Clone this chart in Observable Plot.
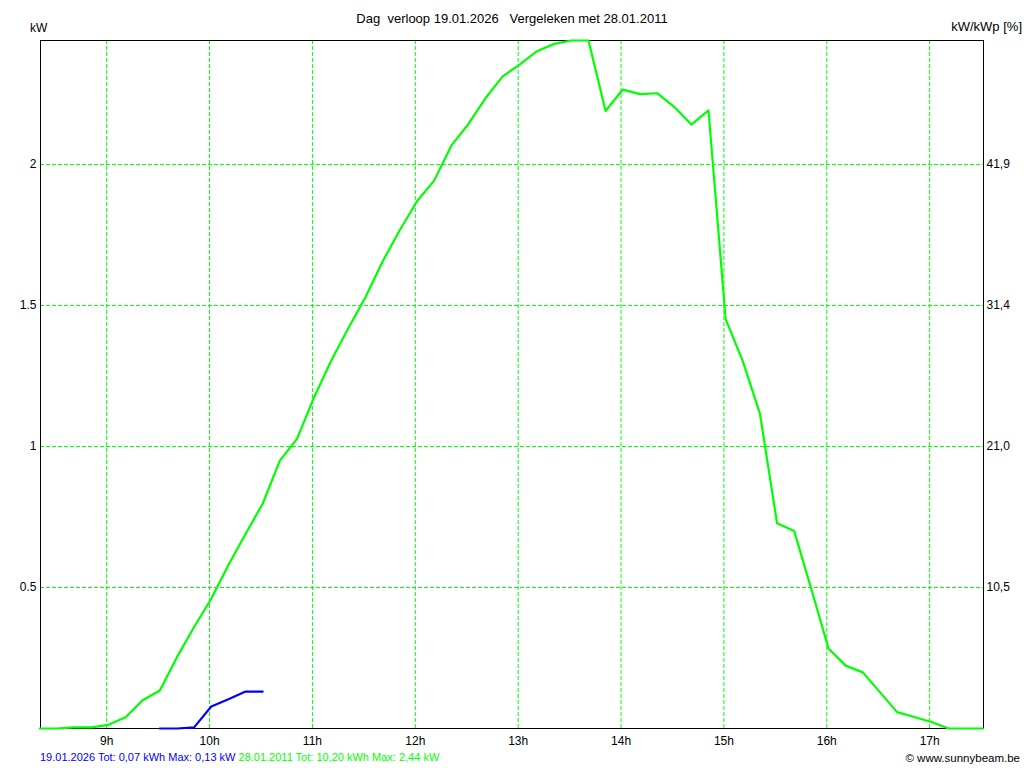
<!DOCTYPE html>
<html><head><meta charset="utf-8">
<script src="https://cdn.jsdelivr.net/npm/d3@7"></script>
<script src="https://cdn.jsdelivr.net/npm/@observablehq/plot@0.6"></script>
<style>
body{margin:0;background:#fff;}
#wrap{position:relative;width:1024px;height:768px;font-family:"Liberation Sans",Arial,sans-serif;font-size:12px;line-height:14px;color:#000;}
#wrap svg{position:absolute;left:0;top:0;}
.t{position:absolute;white-space:pre;}
</style></head><body>
<div id="wrap"></div>
<script>
// ---- data ----
const titleText = "Dag  verloop 19.01.2026   Vergeleken met 28.01.2011";
const leftUnit = "kW";
const rightUnit = "kW/kWp [%]";
const legendBlue = "19.01.2026 Tot: 0,07 kWh Max: 0,13 kW";
const legendGreen = "28.01.2011 Tot: 10,20 kWh Max: 2,44 kW";
const credit = "© www.sunnybeam.be";

const times = ["08:21","08:31","08:41","08:51","09:01","09:11","09:21","09:31","09:41","09:51",
  "10:01","10:11","10:21","10:31","10:41","10:51","11:01","11:11","11:21","11:31",
  "11:41","11:51","12:01","12:11","12:21","12:31","12:41","12:51","13:01","13:11",
  "13:21","13:31","13:41","13:51","14:01","14:11","14:21","14:31","14:41","14:51",
  "15:01","15:11","15:21","15:31","15:41","15:51","16:01","16:11","16:21","16:31",
  "16:41","16:51","17:01","17:11","17:21","17:31"];

// 28.01.2011 (green), kW
const greenValues = [0,0,0.004,0.004,0.013,0.04,0.1,0.135,0.253,0.36,
  0.46,0.58,0.69,0.797,0.95,1.027,1.175,1.305,1.42,1.53,
  1.657,1.768,1.87,1.943,2.067,2.144,2.236,2.313,2.355,2.402,
  2.428,2.44,2.44,2.19,2.266,2.25,2.253,2.205,2.142,2.192,
  1.452,1.303,1.117,0.728,0.70,0.494,0.284,0.223,0.199,0.129,
  0.058,0.041,0.023,0,0,0];

// 19.01.2026 (blue), kW
const blueTimes = ["09:31","09:41","09:51","10:01","10:11","10:21","10:31"];
const blueValues = [0,0,0.004,0.078,0.104,0.131,0.131];

const hourTicks = [9,10,11,12,13,14,15,16,17];
const hourLabels = ["9h","10h","11h","12h","13h","14h","15h","16h","17h"];
const yTicks = [0.5,1,1.5,2];
const yLabels = ["0.5","1","1.5","2"];
const rightLabels = ["10,5","21,0","31,4","41,9"];
const yMax = 2.44;

// ---- build ----
const toH = s => { const [h,m] = s.split(":").map(Number); return h + m/60; };
const greenData = times.map((t,i)=>({t:toH(t), v:greenValues[i]}));
const blueData = blueTimes.map((t,i)=>({t:toH(t), v:blueValues[i]}));
const gridStyle = {stroke:"#00ff00", strokeOpacity:1, strokeWidth:1, strokeDasharray:"4,2"};

const chart = Plot.plot({
  width:1024, height:768,
  marginTop:40, marginLeft:40, marginRight:41, marginBottom:40,
  style:{fontFamily:"'Liberation Sans', Arial, sans-serif", fontSize:"12px", background:"transparent", color:"#000"},
  x:{domain:[toH(times[0]) + 0.4/60, toH(times[times.length-1]) + 0.4/60]},
  y:{domain:[0, yMax]},
  marks:[
    Plot.gridX(hourTicks, gridStyle),
    Plot.gridY(yTicks, gridStyle),
    Plot.frame({stroke:"#000", strokeWidth:1}),
    Plot.axisX(hourTicks, {tickSize:0, tickPadding:8, tickFormat:d=>hourLabels[hourTicks.indexOf(d)], label:null}),
    Plot.axisY(yTicks, {anchor:"left", tickSize:0, tickPadding:4, tickFormat:d=>yLabels[yTicks.indexOf(d)], label:null}),
    Plot.axisY(yTicks, {anchor:"right", tickSize:0, tickPadding:3, tickFormat:d=>rightLabels[yTicks.indexOf(d)], label:null}),
    Plot.line(greenData, {x:"t", y:"v", stroke:"#00ff00", strokeWidth:2.2, curve:"linear"}),
    Plot.line(blueData, {x:"t", y:"v", stroke:"#0000ff", strokeWidth:2.2, curve:"linear"})
  ]
});

const wrap = document.getElementById("wrap");
wrap.appendChild(chart);
function addText(txt, css){ const d=document.createElement("div"); d.className="t"; d.textContent=txt; d.style.cssText=css; wrap.appendChild(d); return d; }
addText(titleText, "left:0;width:1024px;text-align:center;top:12px;font-size:13px;");
addText(leftUnit, "left:30px;top:21px;");
addText(rightUnit, "right:2px;top:20px;font-size:13px;");
const leg = document.createElement("div"); leg.className="t"; leg.style.cssText="left:40px;top:750px;font-size:11px;";
const s1=document.createElement("span"); s1.style.color="#0000ff"; s1.textContent=legendBlue;
const s2=document.createElement("span"); s2.style.color="#00ff00"; s2.textContent=" "+legendGreen;
leg.appendChild(s1); leg.appendChild(s2); wrap.appendChild(leg);
addText(credit, "right:4px;top:751px;font-size:11.5px;");
</script>
</body></html>
